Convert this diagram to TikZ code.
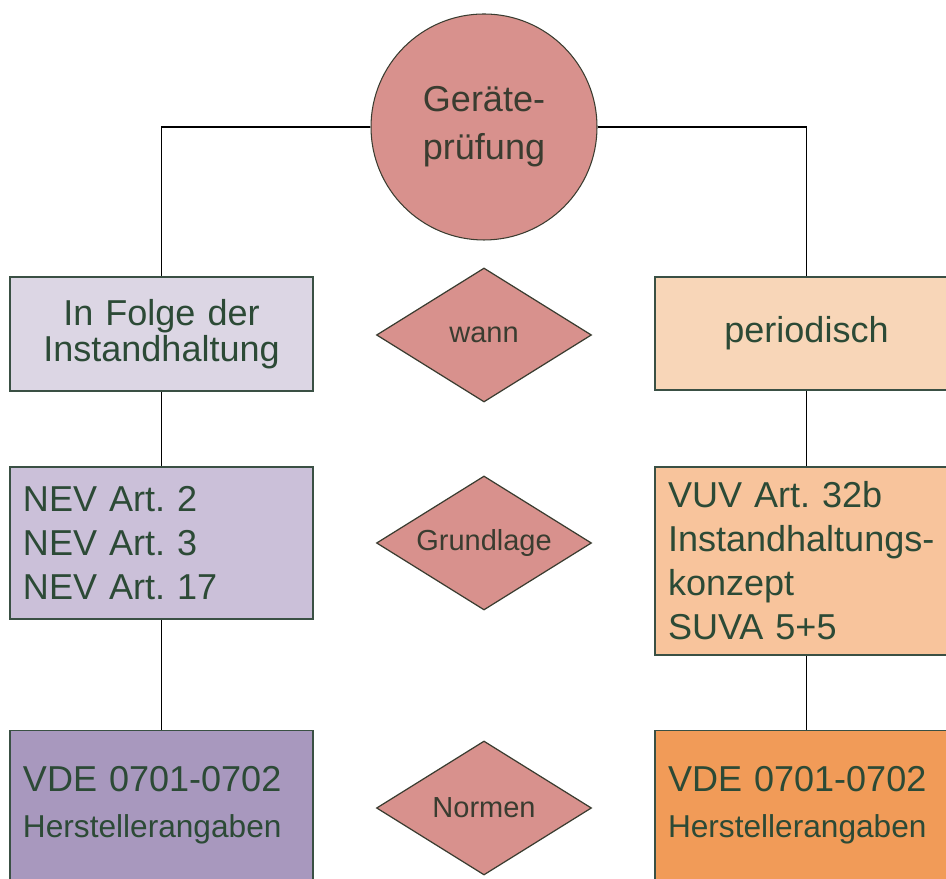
\documentclass[tikz,border=0pt]{standalone}
\usepackage{fontspec}
\setmainfont{Liberation Sans}
\usetikzlibrary{shapes.geometric}

\definecolor{rosa}{RGB}{216,145,141}
\definecolor{lilaA}{RGB}{220,214,228}
\definecolor{lilaB}{RGB}{203,192,217}
\definecolor{lilaC}{RGB}{168,152,190}
\definecolor{orangeA}{RGB}{248,214,184}
\definecolor{orangeB}{RGB}{248,196,156}
\definecolor{orangeC}{RGB}{241,155,88}
\definecolor{rahmen}{RGB}{58,80,68}
\definecolor{schrift}{RGB}{44,74,54}
\definecolor{dunkel}{RGB}{58,60,48}

\begin{document}
\frenchspacing
\begin{tikzpicture}[line width=1.1pt,
                    box/.style={rectangle,draw=rahmen,line width=1pt,minimum width=6.06cm,
                                text width=5.54cm,inner xsep=0.26cm,text=schrift,
                                font=\fontsize{20.5}{25}\selectfont},
                    rund/.style={circle,draw=dunkel,line width=0.6pt,fill=rosa,minimum size=4.52cm,
                                 align=center,text=dunkel,font=\fontsize{20.5}{27.3}\selectfont},
                    raute/.style={diamond,aspect=1.6,draw=dunkel,line width=0.7pt,fill=rosa,minimum width=4.3cm,
                                  minimum height=2.68cm,inner sep=0pt,text=dunkel,
                                  font=\fontsize{16.5}{16.5}\selectfont}]

	\clip (0,0) rectangle (18.92,17.56);

  	\node[rund] (A) at (9.68,15.02)					{Geräte-\\prüfung};

  	\node[box,fill=lilaA,align=center,minimum height=2.28cm,
	      font=\fontsize{20.5}{20.5}\selectfont] (B) at (3.23,10.88)	{In Folge der\\Instandhaltung};
	\node[box,fill=lilaB,align=left,minimum height=3.04cm] (C) at (3.23,6.70)	{NEV Art. 2\\NEV Art. 3\\NEV Art. 17};
	\node[box,fill=lilaC,align=left,minimum height=3.0cm,
	      font=\fontsize{20.5}{26}\selectfont] (D) at (3.23,1.45)	{VDE 0701-0702\\{\fontsize{18}{26}\selectfont Herstellerangaben}};

  	\node[box,fill=orangeA,align=center,minimum height=2.26cm] (E) at (16.13,10.89)	{periodisch};
	\node[box,fill=orangeB,align=left,minimum height=3.76cm] (F) at (16.13,6.34)	{VUV Art. 32b\\Instandhaltungs-\\konzept\\SUVA 5+5};
	\node[box,fill=orangeC,align=left,minimum height=3.0cm,
	      font=\fontsize{20.5}{26}\selectfont] (H) at (16.13,1.45)	{VDE 0701-0702\\{\fontsize{18}{26}\selectfont Herstellerangaben}};

	\node[raute] (W) at (9.68,10.86)				{wann};
	\node[raute] (X) at (9.68,6.70)				{Grundlage};
	\node[raute] (Y) at (9.68,1.40)				{Normen};

  	\draw (A.west) -| (B.north);
	\draw (A.east) -| (E.north);
	\path (B) edge		(C);
	\path (C) edge		(D);
	\path (E) edge		(F);
	\path (F) edge		(H);

\end{tikzpicture}
\end{document}
